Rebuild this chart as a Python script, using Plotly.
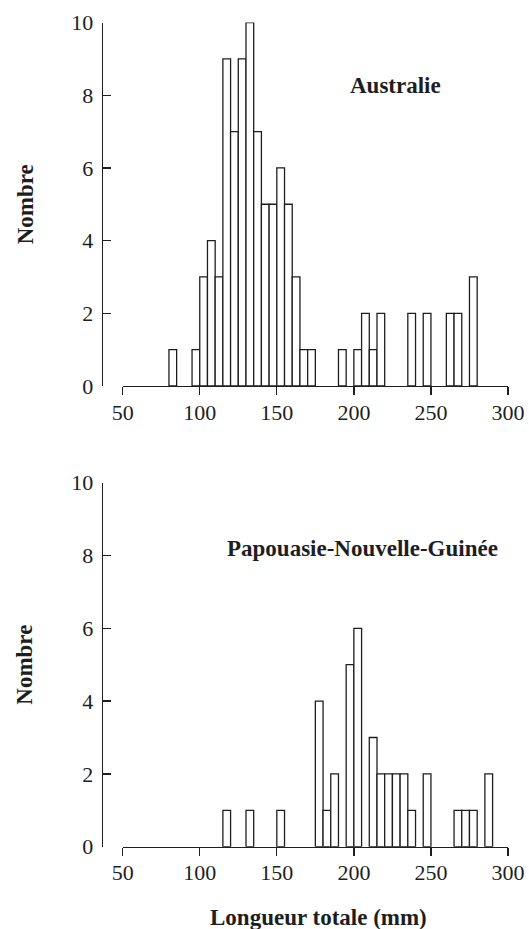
import plotly.graph_objects as go

# Australie: bin starts (mm, bin width 5) and counts
aus_bins = [80, 95, 100, 105, 110, 115, 120, 125, 130, 135, 140, 145, 150, 155, 160, 165, 170,
            190, 200, 205, 210, 215, 235, 245, 260, 265, 275]
aus_counts = [1, 1, 3, 4, 3, 9, 7, 9, 10, 7, 5, 5, 6, 5, 3, 1, 1,
              1, 1, 2, 1, 2, 2, 2, 2, 2, 3]

# Papouasie-Nouvelle-Guinée
png_bins = [115, 130, 150, 175, 180, 185, 195, 200, 210, 215, 220, 225, 230, 235, 245,
            265, 270, 275, 285]
png_counts = [1, 1, 1, 4, 1, 2, 5, 6, 3, 2, 2, 2, 2, 1, 2, 1, 1, 1, 2]

bin_width = 5
x_ticks = [50, 100, 150, 200, 250, 300]
y_ticks = [0, 2, 4, 6, 8, 10]

FONT = "Liberation Serif"
INK = "#1e1e1e"

W, H = 529, 929
L, T = 95, 22
R = int(round(W - 508.3))
B = int(round(H - 846.7))
pw = W - L - R
ph = H - T - B


def fx(px):
    return (px - L) / pw


def fy(py):
    return (H - B - py) / ph


fig = go.Figure()
fig.add_trace(go.Bar(x=aus_bins, y=aus_counts, width=bin_width, offset=0,
                     marker=dict(color="white", line=dict(color=INK, width=1.3)),
                     xaxis="x", yaxis="y", showlegend=False, hoverinfo="skip"))
fig.add_trace(go.Bar(x=png_bins, y=png_counts, width=bin_width, offset=0,
                     marker=dict(color="white", line=dict(color=INK, width=1.3)),
                     xaxis="x2", yaxis="y2", showlegend=False, hoverinfo="skip"))

xdom = [fx(122.7), 1.0]
ypos = fx(101.7)

xcommon = dict(range=[50, 300], showline=True, linecolor=INK, linewidth=1.3,
               ticks="outside", ticklen=8, tickwidth=1.3, tickcolor=INK,
               tickvals=x_ticks, showgrid=False, zeroline=False, domain=xdom,
               automargin=False, ticklabelstandoff=-2,
               tickfont=dict(family=FONT, size=22, color=INK))
ycommon = dict(range=[0, 10], showline=True, linecolor=INK, linewidth=1.3,
               ticks="inside", ticklen=8, tickwidth=1.3, tickcolor=INK,
               tickvals=y_ticks, showgrid=False, zeroline=False,
               anchor="free", position=ypos, ticklabelstandoff=4,
               automargin=False,
               tickfont=dict(family=FONT, size=22, color=INK))

top_dom = [fy(386), min(1.0, fy(22.5))]
bot_dom = [max(0.0, fy(846.7)), fy(482.7)]

fig.update_layout(
    template="none",
    width=W, height=H,
    margin=dict(l=L, r=R, t=T, b=B, autoexpand=False),
    plot_bgcolor="white", paper_bgcolor="white",
    bargap=0,
    xaxis=dict(anchor="y", **xcommon),
    yaxis=dict(domain=top_dom, **ycommon),
    xaxis2=dict(anchor="y2", **xcommon),
    yaxis2=dict(domain=bot_dom, **ycommon),
)

title_font = dict(family=FONT, size=23, color=INK)
annotations = [
    dict(text="<b>Australie</b>", x=227, y=8.28, xref="x", yref="y",
         xanchor="center", yanchor="middle", showarrow=False, font=title_font),
    dict(text="<b>Papouasie-Nouvelle-Guinée</b>", x=205.4, y=8.2, xref="x2", yref="y2",
         xanchor="center", yanchor="middle", showarrow=False, font=title_font),
    dict(text="<b>Nombre</b>", textangle=-90, x=fx(25), xref="paper",
         y=(top_dom[0] + top_dom[1]) / 2, yref="paper",
         xanchor="center", yanchor="middle", showarrow=False, font=title_font),
    dict(text="<b>Nombre</b>", textangle=-90, x=fx(25), xref="paper",
         y=(bot_dom[0] + bot_dom[1]) / 2, yref="paper",
         xanchor="center", yanchor="middle", showarrow=False, font=title_font),
    dict(text="<b>Longueur totale (mm)</b>", x=fx(318), xref="paper",
         y=fy(918), yref="paper", xanchor="center", yanchor="middle",
         showarrow=False, font=title_font),
]
fig.update_layout(annotations=annotations)

fig.write_html(
    "out.html",
    config={"displayModeBar": False, "staticPlot": True},
    post_script="document.body.style.margin='0';document.body.style.overflow='hidden';",
)
